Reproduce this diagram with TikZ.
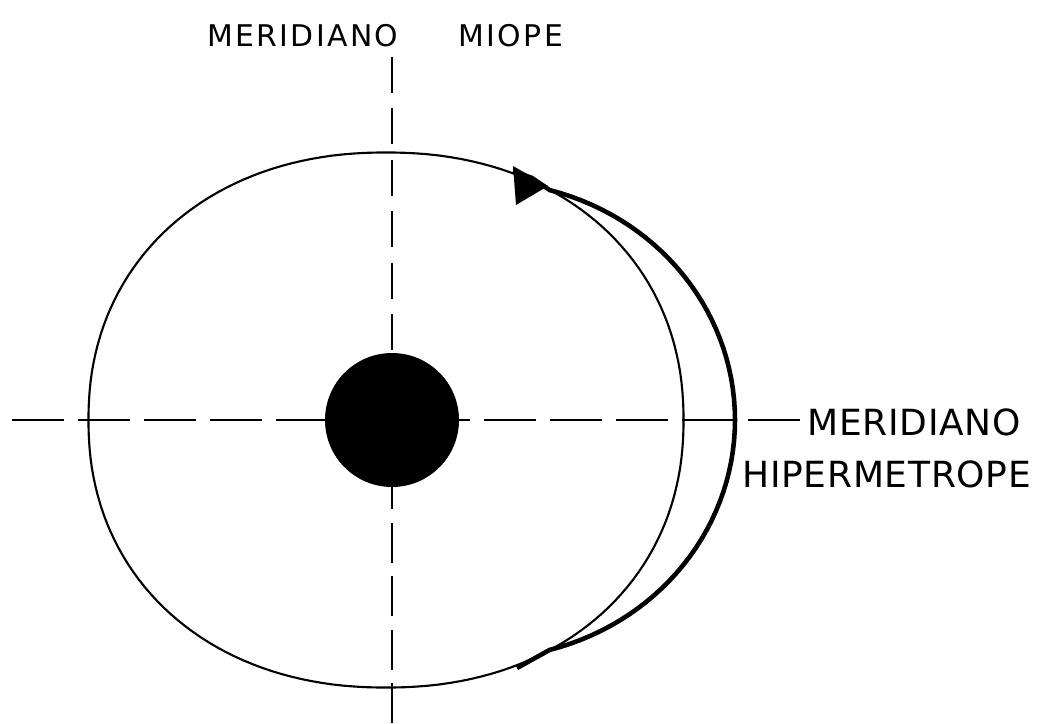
\documentclass[tikz,border=0pt]{standalone}
\usepackage{fontspec}
\newfontfamily\titlefont[LetterSpace=8]{DejaVu Sans}
\newfontfamily\tagfont[LetterSpace=2]{DejaVu Sans}

\begin{document}
\begin{tikzpicture}[x=0.02cm, y=-0.02cm,
  meridian/.style={line width=1.4pt},
  toptext/.style={anchor=base, inner sep=0pt, font=\titlefont\fontsize{17}{20}\selectfont},
  sidetext/.style={anchor=base west, inner sep=0pt, font=\tagfont\fontsize{20.5}{24}\selectfont},
]
  \useasboundingbox (0,0) rectangle (1047,723);

  % Eye outline (a slightly squared ellipse)
  \draw[line width=1.2pt] plot[domain=1:359, samples=180]
    ({386+297.5*sign(cos(\x))*exp(0.93*ln(abs(cos(\x))))},
     {420-267.5*sign(sin(\x))*exp(0.93*ln(abs(sin(\x))))}) -- cycle;

  % Pupil
  \node[circle, fill, minimum size=2.68cm, inner sep=0pt] (pupil) at (392,420) {};

  % Meridians
  \coordinate (top) at (392,57);
  \coordinate (bottom) at (392,723);
  \coordinate (west) at (12,420);
  \coordinate (east) at (800,420);
  \draw[meridian, dash pattern=on 0.72cm off 0.31cm] (top) -- (pupil);
  \draw[meridian, dash pattern=on 0.8cm off 0.27cm] (bottom) -- (pupil);
  \draw[meridian, dash pattern=on 1.04cm off 0.28cm] (west) -- (pupil);
  \draw[meridian, dash pattern=on 1.04cm off 0.28cm] (east) -- (pupil);

  % Crescent
  \draw[line width=2.6pt, line join=round] (513,171) -- (532,178)
    -- plot[domain=75:-75, samples=61] ({485+250*cos(\x)}, {420-238*sin(\x)}) -- (517,668);
  \fill (513,166) -- (516,205) -- (548,186) -- cycle;

  % Labels
  \node[toptext] (miope) at (385,47) {MERIDIANO\hspace{1.2cm}MIOPE};
  \node[sidetext] (meridiano) at (807,435) {MERIDIANO};
  \node[sidetext] (hiper) at (742,487) {HIPERMETROPE};
\end{tikzpicture}
\end{document}
